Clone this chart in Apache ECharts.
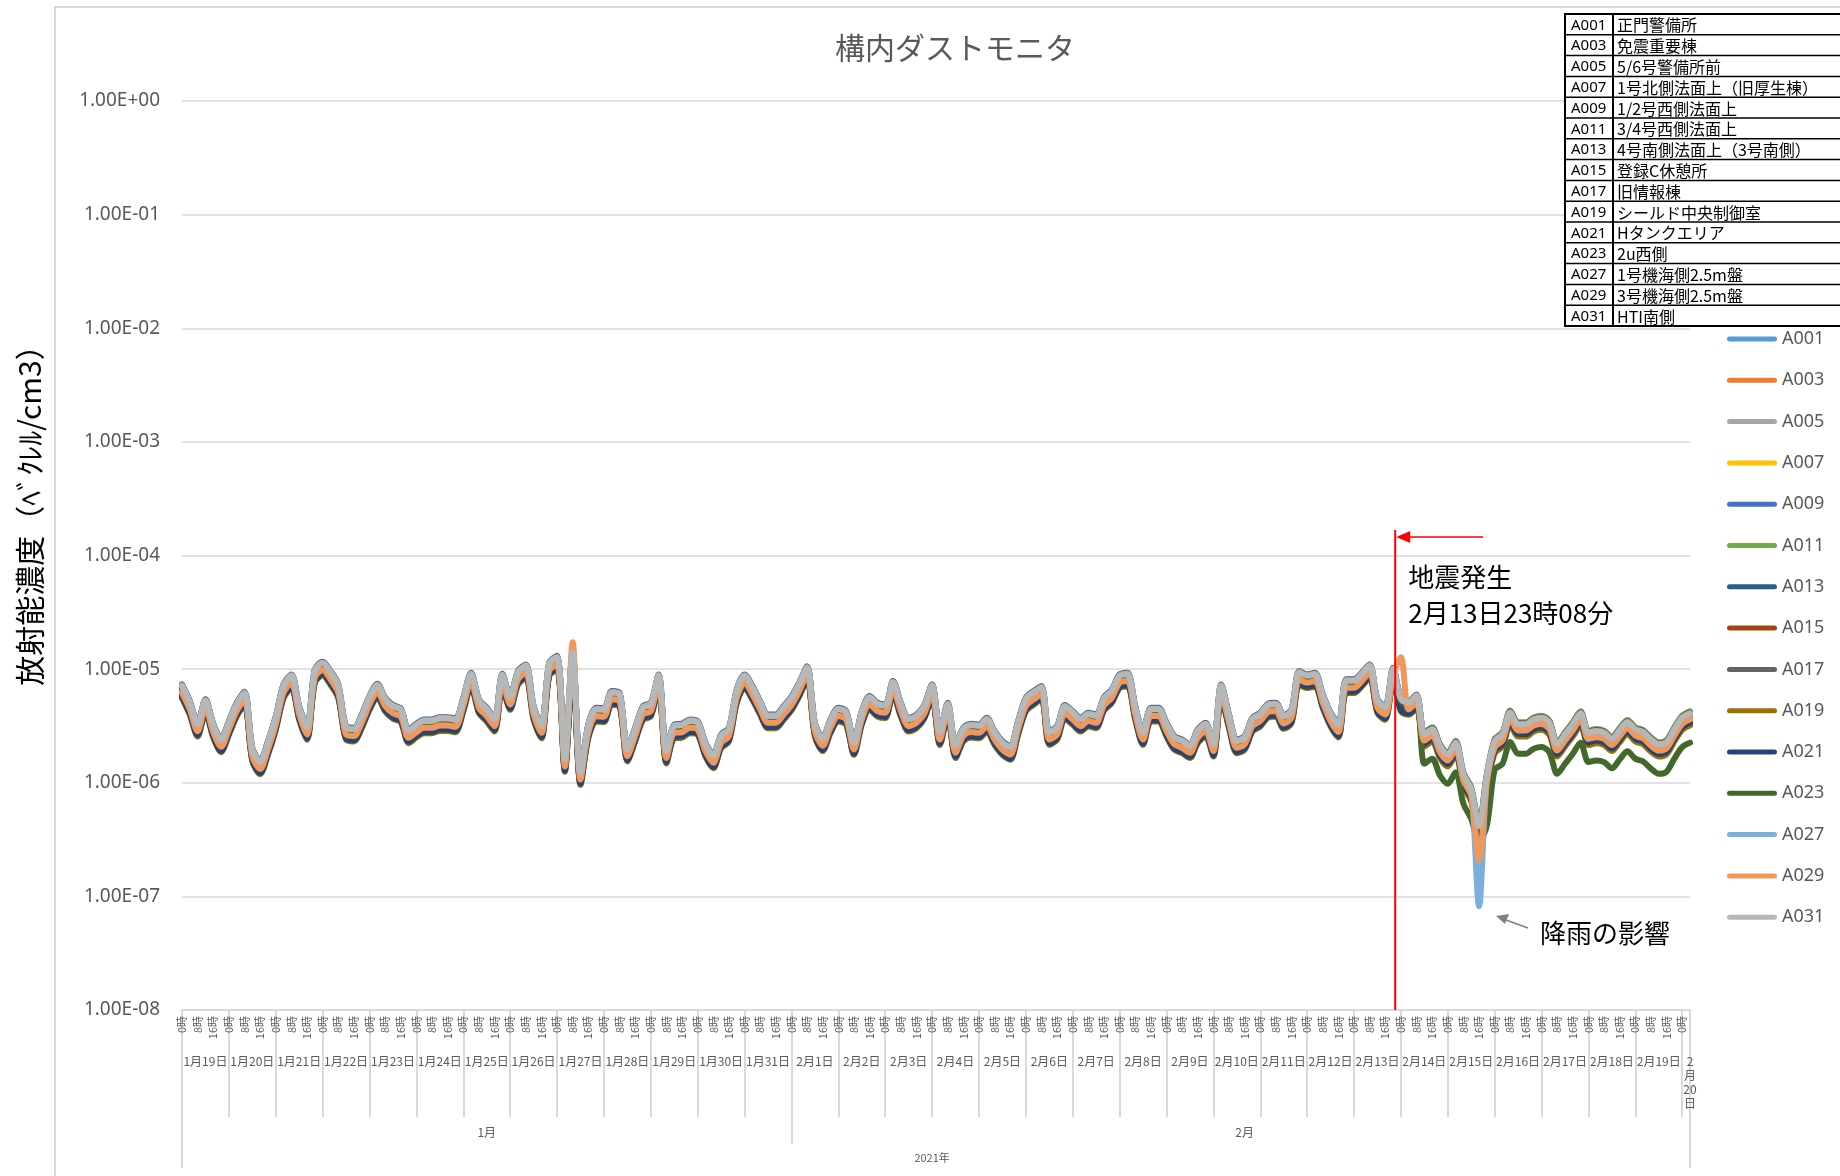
<!DOCTYPE html>
<html>
<head>
<meta charset="utf-8">
<script src="https://cdn.jsdelivr.net/npm/echarts@6/dist/echarts.min.js"></script>
<style>
  html, body { margin: 0; padding: 0; background: #fff; }
  #main { width: 1840px; height: 1176px; }
</style>
</head>
<body>
<div id="main"></div>
<script>
var jp = '"Noto Sans CJK JP", "Noto Sans", sans-serif';
var latin = '"Noto Sans", "Noto Sans CJK JP", sans-serif';

var stations = ['A001', 'A003', 'A005', 'A007', 'A009', 'A011', 'A013', 'A015',
  'A017', 'A019', 'A021', 'A023', 'A027', 'A029', 'A031'];
var places = ['正門警備所', '免震重要棟', '5/6号警備所前', '1号北側法面上（旧厚生棟）',
  '1/2号西側法面上', '3/4号西側法面上', '4号南側法面上（3号南側）', '登録C休憩所',
  '旧情報棟', 'シールド中央制御室', 'Hタンクエリア', '2u西側', '1号機海側2.5m盤',
  '3号機海側2.5m盤', 'HTI南側'];
var colors = ['#5B9BD5', '#ED7D31', '#A5A5A5', '#FFC000', '#4472C4', '#70AD47', '#255E91',
  '#9E480E', '#636363', '#997300', '#264478', '#43682B', '#7CAFDD', '#F1975A', '#B7B7B7'];

var dayLabels = ['1月19日', '1月20日', '1月21日', '1月22日', '1月23日', '1月24日', '1月25日',
  '1月26日', '1月27日', '1月28日', '1月29日', '1月30日', '1月31日', '2月1日', '2月2日',
  '2月3日', '2月4日', '2月5日', '2月6日', '2月7日', '2月8日', '2月9日', '2月10日',
  '2月11日', '2月12日', '2月13日', '2月14日', '2月15日', '2月16日', '2月17日', '2月18日',
  '2月19日', '2月20日'];
var monthLabels = ['1月', '2月'];
var yearLabel = '2021年';
var stepHours = 4;   // one reading every 4 hours from 1/19 0時

// A031 (top grey line), read every 4 hours, Bq/cm3
var a031 = [
  7.13e-6, 5.08e-6, 3.27e-6, 5.26e-6, 3.21e-6, 2.38e-6, 3.38e-6, 4.91e-6, 6.14e-6, 1.97e-6,
  1.52e-6, 2.25e-6, 3.74e-6, 7.13e-6, 8.73e-6, 4.59e-6, 3.06e-6, 9.67e-6, 1.13e-5, 9.35e-6,
  7.13e-6, 3.06e-6, 2.96e-6, 3.87e-6, 5.62e-6, 7.22e-6, 5.44e-6, 4.69e-6, 4.38e-6, 2.86e-6,
  3.21e-6, 3.50e-6, 3.50e-6, 3.67e-6, 3.67e-6, 3.57e-6, 5.44e-6, 9.03e-6, 5.26e-6, 4.44e-6,
  3.62e-6, 8.85e-6, 5.62e-6, 9.35e-6, 1.07e-5, 4.59e-6, 3.16e-6, 1.11e-5, 1.27e-5, 1.60e-6,
  1.40e-5, 1.23e-6, 3.16e-6, 4.44e-6, 4.38e-6, 6.23e-6, 6.02e-6, 1.97e-6, 2.96e-6, 4.59e-6,
  4.91e-6, 8.73e-6, 1.90e-6, 3.16e-6, 3.21e-6, 3.50e-6, 3.38e-6, 2.18e-6, 1.72e-6, 2.58e-6,
  2.96e-6, 6.44e-6, 8.73e-6, 6.89e-6, 5.08e-6, 3.87e-6, 3.87e-6, 4.59e-6, 5.55e-6, 7.37e-6,
  1.03e-5, 3.27e-6, 2.44e-6, 3.50e-6, 4.44e-6, 4.15e-6, 2.25e-6, 4.15e-6, 5.62e-6, 4.91e-6,
  4.75e-6, 7.63e-6, 4.91e-6, 3.62e-6, 3.87e-6, 4.69e-6, 7.13e-6, 2.76e-6, 4.91e-6, 2.11e-6,
  2.96e-6, 3.21e-6, 3.16e-6, 3.62e-6, 2.76e-6, 2.25e-6, 2.04e-6, 3.38e-6, 5.44e-6, 6.23e-6,
  6.89e-6, 2.76e-6, 3.06e-6, 4.69e-6, 4.15e-6, 3.62e-6, 4.01e-6, 3.87e-6, 5.51e-6, 6.44e-6,
  8.73e-6, 9.03e-6, 4.59e-6, 2.76e-6, 4.44e-6, 4.44e-6, 3.27e-6, 2.50e-6, 2.33e-6, 2.11e-6,
  2.86e-6, 3.27e-6, 2.18e-6, 7.13e-6, 3.87e-6, 2.33e-6, 2.50e-6, 3.62e-6, 4.01e-6, 4.81e-6,
  4.91e-6, 3.82e-6, 4.29e-6, 9.35e-6, 8.73e-6, 9.03e-6, 5.82e-6, 4.01e-6, 3.21e-6, 7.89e-6,
  7.89e-6, 9.03e-6, 1.07e-5, 5.26e-6, 4.59e-6, 1.00e-5, 5.44e-6, 5.08e-6, 5.82e-6, 2.67e-6,
  2.96e-6, 2.11e-6, 1.78e-6, 2.25e-6, 1.19e-6, 8.73e-7, 4.15e-7, 1.15e-6, 2.33e-6, 2.67e-6,
  4.15e-6, 3.27e-6, 3.27e-6, 3.62e-6, 3.74e-6, 3.38e-6, 2.18e-6, 2.67e-6, 3.27e-6, 4.09e-6,
  2.76e-6, 2.86e-6, 2.76e-6, 2.44e-6, 2.91e-6, 3.43e-6, 2.96e-6, 2.80e-6, 2.41e-6, 2.18e-6,
  2.28e-6, 2.96e-6, 3.74e-6, 4.09e-6
];

// each station relative to A031 (before / after reading 159)
var ratioBefore = [1.02, 0.90, 1.00, 0.88, 0.95, 1.00, 0.82, 0.84, 1.03, 0.78, 0.80, 0.95, 1.01, 0.87, 1];
var ratioAfter  = [1.00, 0.88, 1.00, 0.88, 0.95, 1.04, 0.85, 0.85, 1.02, 0.78, 0.82, 0.55, 0.97, 0.88, 1];
var ratioSwitch = 159;

// readings where a station leaves the band
var outliers = {
  A029: [[50, 1.72e-5], [156, 1.27e-5], [166, 2.1e-7]],
  A027: [[166, 8.2e-8]],
  A023: [[166, 3.0e-7], [167, 4.2e-7], [168, 1.3e-6]]
};

// earthquake 2月13日23時08分, hours after 1/19 0時
var quakeHour = 25 * 24 + 23 + 8 / 60;

var hourCats = [], dayCats = [];
for (var k = 0; k < a031.length; k++) {
  hourCats.push(((k * stepHours) % 24) + '時');
  dayCats.push(dayLabels[Math.min(Math.floor(k * stepHours / 24), dayLabels.length - 1)]);
}
var lastIdx = a031.length - 1;
var perDay = 24 / stepHours;
var febStart = 13 * perDay;

var series = stations.map(function (name, s) {
  var data = a031.map(function (v, i) {
    var r = i < ratioSwitch ? ratioBefore[s] : ratioAfter[s];
    return +(v * r).toPrecision(3);
  });
  (outliers[name] || []).forEach(function (p) { data[p[0]] = p[1]; });
  return {
    name: name,
    type: 'line',
    data: data,
    xAxisIndex: 0,
    symbol: 'none',
    smooth: 0.3,
    color: colors[s],
    lineStyle: { width: 6, color: colors[s], cap: 'round', join: 'round' }
  };
});

function sci(v) {
  var e = Math.round(Math.log10(v));
  var a = Math.abs(e);
  return '1.00E' + (e < 0 ? '-' : '+') + (a < 10 ? '0' : '') + a;
}

var gridCol = '#d9d9d9';
var txt = '#595959';
var legendIcon = 'path://M2.5,0 L47.5,0 A2.5,2.5 0 0 1 47.5,5 L2.5,5 A2.5,2.5 0 0 1 2.5,0 Z';

var dom = document.getElementById('main');
var chart = echarts.init(dom);

var option = {
  animation: false,
  grid: { left: 182, right: 150, top: 101, bottom: 166 },
  legend: {
    orient: 'vertical',
    left: 1722,
    top: 325,
    icon: legendIcon,
    itemWidth: 50,
    itemHeight: 5,
    itemGap: 23.3,
    data: stations,
    textStyle: { fontSize: 18, color: txt, fontFamily: latin }
  },
  xAxis: [
    {
      type: 'category', data: hourCats, boundaryGap: false, position: 'bottom',
      axisLine: { lineStyle: { color: gridCol, width: 2 } },
      axisTick: { show: false },
      axisLabel: {
        interval: function (i) { return i % 2 === 0 && i <= lastIdx - 1; },
        rotate: 90, margin: 6, fontSize: 11, color: txt, fontFamily: jp
      }
    },
    {
      type: 'category', data: dayCats, boundaryGap: false, position: 'bottom',
      axisLine: { show: false },
      axisTick: {
        interval: function (i) { return i % perDay === 0; },
        length: 107, lineStyle: { color: gridCol, width: 2 }
      },
      axisLabel: {
        interval: function (i) {
          return (i % perDay === perDay / 2 && i < lastIdx - 1) || i === lastIdx;
        },
        formatter: function (v, i) {
          return i === lastIdx ? v.replace('月', '\n月\n').replace('日', '\n日') : v;
        },
        margin: 44, fontSize: 12, lineHeight: 14, color: txt, fontFamily: jp
      }
    },
    {
      type: 'category', data: hourCats, boundaryGap: false, position: 'bottom',
      axisLine: { show: false },
      axisTick: {
        interval: function (i) { return i === 0 || i === febStart || i === lastIdx; },
        length: 134, lineStyle: { color: gridCol, width: 2 }
      },
      axisLabel: {
        interval: function (i) {
          return i === Math.round(febStart / 2) || i === Math.round((febStart + lastIdx) / 2);
        },
        formatter: function (v, i) { return i < febStart ? monthLabels[0] : monthLabels[1]; },
        margin: 116, fontSize: 12, color: txt, fontFamily: jp
      }
    },
    {
      type: 'category', data: hourCats, boundaryGap: false, position: 'bottom',
      axisLine: { show: false },
      axisTick: {
        interval: function (i) { return i === 0 || i === lastIdx; },
        length: 158, lineStyle: { color: gridCol, width: 2 }
      },
      axisLabel: {
        interval: function (i) { return i === Math.floor(lastIdx / 2); },
        formatter: function () { return yearLabel; },
        margin: 142, fontSize: 11, color: txt, fontFamily: jp
      }
    }
  ],
  yAxis: {
    type: 'log', logBase: 10, min: 1e-8, max: 1, splitNumber: 8,
    axisLine: { show: false }, axisTick: { show: false },
    axisLabel: { formatter: sci, fontSize: 19, color: txt, margin: 22, fontFamily: latin },
    splitLine: { lineStyle: { color: gridCol, width: 1.5 } }
  },
  series: series
};
chart.setOption(option, true);

// frame, title, axis name, station table and the two notes
var x0 = chart.convertToPixel({ xAxisIndex: 0 }, 155);
var x1 = chart.convertToPixel({ xAxisIndex: 0 }, 156);
var qPos = quakeHour / stepHours;
var qx = x0 + (qPos - 155) * (x1 - x0) - 4;
var gBottom = 1176 - 166;

var g = [];
g.push({ type: 'rect', z: -10, shape: { x: 55, y: 7, width: 1820, height: 1200 },
  style: { fill: 'none', stroke: gridCol, lineWidth: 2 } });
g.push({ type: 'text', x: 955, y: 48, style: { text: '構内ダストモニタ', fontSize: 30,
  fill: txt, fontFamily: jp, align: 'center', verticalAlign: 'middle' } });
g.push({ type: 'text', x: 30, y: 508, rotation: Math.PI / 2, style: { text: '放射能濃度（ﾍﾞｸﾚﾙ/cm3）',
  fontSize: 30, fill: '#000', fontFamily: jp, align: 'center', verticalAlign: 'middle' } });

// station table
var tx = 1565, ty = 14, rh = 20.8, tc = 1613;
var tab = [{ type: 'rect', shape: { x: tx, y: ty, width: 300, height: rh * stations.length },
  style: { fill: '#fff', stroke: '#000', lineWidth: 2 } }];
stations.forEach(function (s, i) {
  if (i > 0) tab.push({ type: 'line', shape: { x1: tx, y1: ty + i * rh, x2: 1840, y2: ty + i * rh },
    style: { stroke: '#000', lineWidth: 1.5 } });
  tab.push({ type: 'text', x: tx + 6, y: ty + i * rh + rh / 2 + 1, style: { text: s, fontSize: 15,
    fill: '#000', fontFamily: latin, verticalAlign: 'middle' } });
  tab.push({ type: 'text', x: tc + 4, y: ty + i * rh + rh / 2 + 1, style: { text: places[i], fontSize: 16,
    fill: '#000', fontFamily: jp, verticalAlign: 'middle' } });
});
tab.push({ type: 'line', shape: { x1: tc, y1: ty, x2: tc, y2: ty + rh * stations.length },
  style: { stroke: '#000', lineWidth: 2 } });
g.push({ type: 'group', z: 50, children: tab });

// earthquake marker
g.push({ type: 'line', z: 40, shape: { x1: qx, y1: 530, x2: qx, y2: gBottom },
  style: { stroke: '#ff0000', lineWidth: 2 } });
g.push({ type: 'line', z: 40, shape: { x1: qx + 88, y1: 537, x2: qx + 12, y2: 537 },
  style: { stroke: '#ff0000', lineWidth: 1.5 } });
g.push({ type: 'polygon', z: 40, shape: { points: [[qx + 1, 537], [qx + 15, 531], [qx + 15, 543]] },
  style: { fill: '#ff0000' } });
g.push({ type: 'text', z: 40, x: qx + 13, y: 577, style: { text: '地震発生', fontSize: 26,
  fill: '#000', fontFamily: jp, verticalAlign: 'middle' } });
g.push({ type: 'text', z: 40, x: qx + 13, y: 613, style: { text: '2月13日23時08分', fontSize: 26,
  fill: '#000', fontFamily: jp, verticalAlign: 'middle' } });

// rain note
g.push({ type: 'line', z: 40, shape: { x1: 1528, y1: 928, x2: 1506, y2: 920 },
  style: { stroke: '#7f7f7f', lineWidth: 1.5 } });
g.push({ type: 'polygon', z: 40, shape: { points: [[1496, 916], [1509, 914], [1505, 924]] },
  style: { fill: '#7f7f7f' } });
g.push({ type: 'text', z: 40, x: 1540, y: 933, style: { text: '降雨の影響', fontSize: 26,
  fill: '#000', fontFamily: jp, verticalAlign: 'middle' } });

chart.setOption({ graphic: g });
</script>
</body>
</html>
